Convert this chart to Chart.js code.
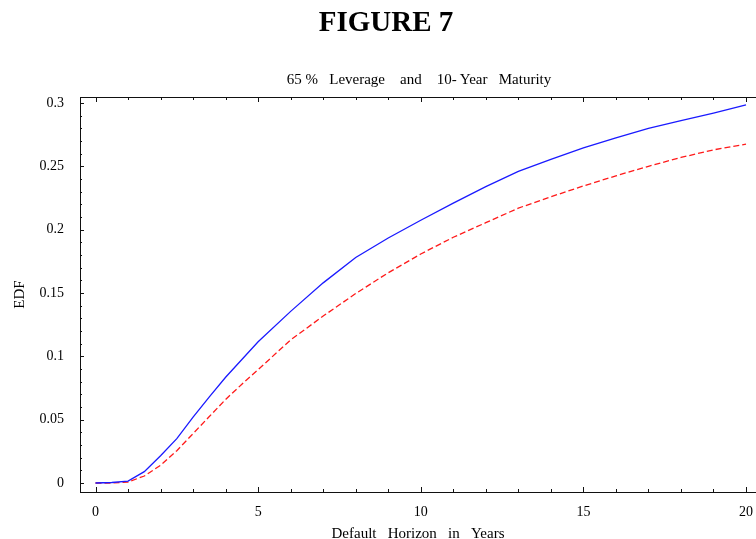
<!DOCTYPE html>
<html>
<head>
<meta charset="utf-8">
<script src="https://cdn.jsdelivr.net/npm/chart.js@4"></script>
<style>
  html, body { margin: 0; padding: 0; background: #fff; }
  #wrap { position: relative; width: 756px; height: 539px; overflow: hidden; }
  #fig {
    position: absolute; left: 386px; top: 7px; transform: translateX(-50%);
    white-space: nowrap; font: bold 29px/29px "Liberation Serif", serif; color: #000;
  }
  #sub {
    position: absolute; left: 419px; top: 72px; transform: translateX(-50%);
    white-space: pre; font: 15px/15px "Liberation Serif", serif; color: #000;
  }
  canvas { position: absolute; left: 0; top: 0; }
</style>
</head>
<body>
<div id="wrap">
  <canvas id="edfChart" width="756" height="539"></canvas>
  <div id="fig">FIGURE 7</div>
  <div id="sub">65 %   Leverage    and    10- Year   Maturity</div>
</div>
<script>
// default horizon (years) and EDF
const horizonYears = [0, 0.5, 1, 1.5, 2, 2.5, 3, 3.5, 4, 4.5, 5, 6, 7, 8, 9, 10, 11, 12, 13, 14, 15, 16, 17, 18, 19, 20];
const edfSolid = [0, 0.0004, 0.0015, 0.009, 0.0215, 0.035, 0.052, 0.068, 0.0835, 0.0975, 0.1115, 0.1355, 0.158, 0.178, 0.1934, 0.2074, 0.221, 0.234, 0.246, 0.2555, 0.2645, 0.2725, 0.28, 0.286, 0.292, 0.2985];
const edfDashed = [0, 0, 0.0008, 0.0055, 0.014, 0.0255, 0.039, 0.0525, 0.066, 0.078, 0.0895, 0.113, 0.1318, 0.1496, 0.166, 0.1808, 0.194, 0.2055, 0.217, 0.226, 0.2345, 0.2425, 0.25, 0.257, 0.263, 0.2675];

const xTicks = [0, 1, 2, 3, 4, 5, 6, 7, 8, 9, 10, 11, 12, 13, 14, 15, 16, 17, 18, 19, 20];
const xLabels = ['0', '5', '10', '15', '20'];
const yTicks = [0, 0.01, 0.02, 0.03, 0.04, 0.05, 0.06, 0.07, 0.08, 0.09, 0.1, 0.11, 0.12, 0.13, 0.14, 0.15,
  0.16, 0.17, 0.18, 0.19, 0.2, 0.21, 0.22, 0.23, 0.24, 0.25, 0.26, 0.27, 0.28, 0.29, 0.3];
const yLabels = ['0', '0.05', '0.1', '0.15', '0.2', '0.25', '0.3'];

function toPoints(ys) {
  return ys.map(function (v, i) { return { x: horizonYears[i], y: v }; });
}

function isMajorX(v) { return xLabels.indexOf(String(v)) !== -1; }
function isMajorY(v) { return yLabels.indexOf(String(v)) !== -1; }

// axis frame with inward tick marks, as in the original plot
const frameTicks = {
  id: 'frameTicks',
  afterDatasetsDraw(chart) {
    const ctx = chart.ctx;
    const a = chart.chartArea;
    const x = chart.scales.x;
    const y = chart.scales.y;
    ctx.save();
    ctx.strokeStyle = '#111';
    ctx.lineWidth = 1;
    ctx.beginPath();
    ctx.moveTo(a.left + 0.5, a.top);
    ctx.lineTo(a.left + 0.5, a.bottom + 1);
    ctx.moveTo(a.left, a.bottom + 0.5);
    ctx.lineTo(a.right, a.bottom + 0.5);
    ctx.moveTo(a.left, a.top + 0.5);
    ctx.lineTo(a.right, a.top + 0.5);

    xTicks.forEach(function (v) {
      const px = Math.round(x.getPixelForValue(v)) + 0.5;
      const len = isMajorX(v) ? 5 : 3;
      ctx.moveTo(px, a.bottom);
      ctx.lineTo(px, a.bottom - len);
      ctx.moveTo(px, a.top);
      ctx.lineTo(px, a.top + len);
    });
    yTicks.forEach(function (v) {
      const py = Math.round(y.getPixelForValue(v)) + 0.5;
      const len = isMajorY(v) ? 4 : 2;
      ctx.moveTo(a.left, py);
      ctx.lineTo(a.left + len, py);
    });
    ctx.stroke();
    ctx.restore();
  }
};

const serif = '"Liberation Serif", "Times New Roman", serif';

new Chart(document.getElementById('edfChart'), {
  type: 'line',
  data: {
    datasets: [
      {
        data: toPoints(edfSolid),
        borderColor: '#1a1aff',
        borderWidth: 1.3,
        pointRadius: 0,
        tension: 0,
        fill: false,
      },
      {
        data: toPoints(edfDashed),
        borderColor: '#ff1a1a',
        borderWidth: 1.3,
        borderDash: [6, 3],
        pointRadius: 0,
        tension: 0,
        fill: false,
      },
    ],
  },
  options: {
    responsive: false,
    animation: false,
    devicePixelRatio: 1,
    layout: { padding: { top: 97, right: 0, bottom: 0, left: 0 } },
    plugins: {
      legend: { display: false },
      tooltip: { enabled: false },
    },
    scales: {
      x: {
        type: 'linear',
        min: -0.4766,
        max: 20.307,
        grid: { display: false, drawTicks: false },
        border: { display: false },
        afterBuildTicks: function (scale) {
          scale.ticks = xTicks.map(function (v) { return { value: v }; });
        },
        afterFit: function (scale) {
          scale.height = 47;
          scale.paddingLeft = 0;
          scale.paddingRight = 0;
        },
        ticks: {
          autoSkip: false,
          maxRotation: 0,
          padding: 12,
          color: '#000',
          font: { family: serif, size: 14 },
          callback: function (v) { return isMajorX(v) ? String(v) : ''; },
        },
        title: {
          display: true,
          text: 'Default   Horizon   in   Years',
          color: '#000',
          font: { family: serif, size: 15, lineHeight: 1 },
          padding: { top: 0, bottom: -2.5 },
        },
      },
      y: {
        type: 'linear',
        min: -0.0071,
        max: 0.30474,
        grid: { display: false, drawTicks: false },
        border: { display: false },
        afterBuildTicks: function (scale) {
          scale.ticks = yTicks.map(function (v) { return { value: v }; });
        },
        afterFit: function (scale) {
          scale.width = 80;
          scale.paddingTop = 0;
          scale.paddingBottom = 0;
        },
        ticks: {
          autoSkip: false,
          padding: 16,
          color: '#000',
          font: { family: serif, size: 14 },
          callback: function (v) { return isMajorY(v) ? String(v) : ''; },
        },
        title: {
          display: true,
          text: 'EDF',
          color: '#000',
          font: { family: serif, size: 15, lineHeight: 1.2 },
          padding: { top: 11, bottom: 0 },
        },
      },
    },
  },
  plugins: [frameTicks],
});
</script>
</body>
</html>
